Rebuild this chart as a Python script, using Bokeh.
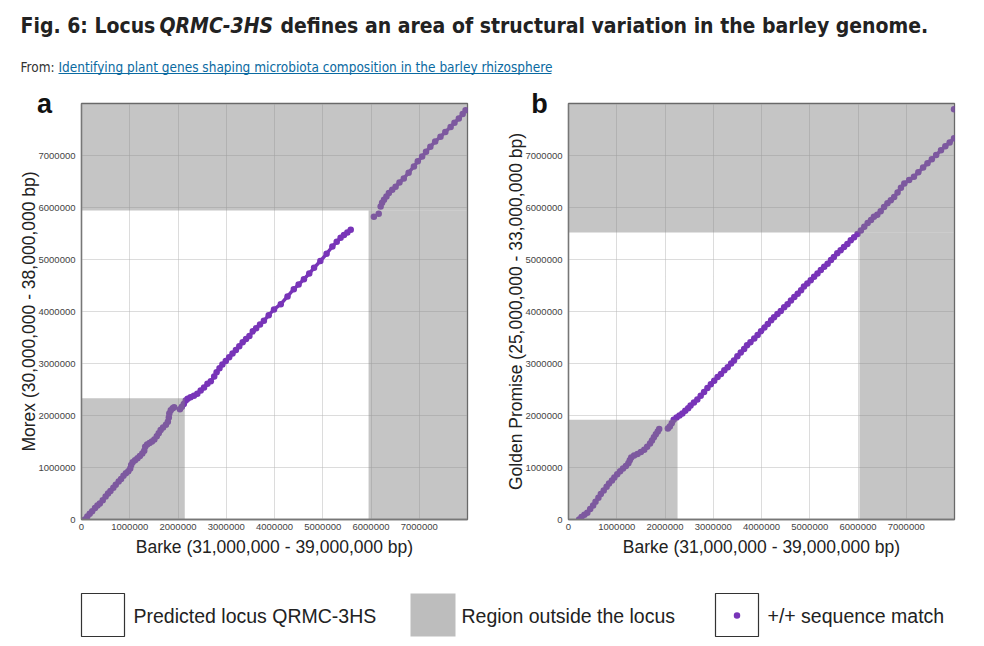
import numpy as np
from bokeh.plotting import figure
from bokeh.models import Range1d, FixedTicker, BasicTickFormatter
from bokeh.layouts import column, row
from bokeh.core.properties import value
from bokeh.embed import file_html
from bokeh.resources import INLINE

# ---------------------------------------------------------------------------
# Data: positions in Mb relative to the start of each window
# ---------------------------------------------------------------------------
# Panel a: Barke (31-39 Mb) vs Morex (30-38 Mb); group = contiguous block
a_barke = [0.07, 0.12, 0.17, 0.22, 0.28, 0.33, 0.38, 0.44, 0.50, 0.55, 0.60, 0.66, 0.71, 0.77,
           0.82, 0.87, 0.92, 0.97, 1.01, 1.03, 1.06, 1.11, 1.16, 1.21, 1.26, 1.30, 1.32, 1.36,
           1.41, 1.46, 1.51, 1.56, 1.60, 1.64, 1.69, 1.75, 1.79, 1.81, 1.82, 1.85, 1.89, 1.92,
           2.04, 2.08, 2.12, 2.16, 2.20, 2.26, 2.33, 2.40, 2.47, 2.54, 2.61, 2.68, 2.75, 2.80,
           2.86, 2.92, 2.99, 3.06, 3.13, 3.20, 3.27, 3.34, 3.41, 3.48, 3.55, 3.62, 3.70, 3.78,
           3.88, 3.99, 4.13, 4.27, 4.40, 4.50, 4.61, 4.72, 4.82, 4.95, 5.08, 5.20, 5.29, 5.37,
           5.44, 5.51, 5.58,
           6.06, 6.16,
           6.20, 6.23, 6.27, 6.32, 6.37, 6.44, 6.51, 6.59, 6.68, 6.78, 6.89, 6.97, 7.06, 7.14,
           7.23, 7.33, 7.44, 7.54, 7.65, 7.73, 7.82, 7.90, 7.96]
a_morex = [0.00, 0.06, 0.11, 0.16, 0.22, 0.27, 0.31, 0.37, 0.44, 0.50, 0.55, 0.61, 0.67, 0.73,
           0.78, 0.84, 0.89, 0.93, 0.98, 1.05, 1.10, 1.14, 1.18, 1.22, 1.27, 1.32, 1.40, 1.44,
           1.47, 1.50, 1.54, 1.60, 1.66, 1.72, 1.77, 1.82, 1.88, 1.96, 2.04, 2.10, 2.14, 2.16,
           2.12, 2.17, 2.22, 2.29, 2.32, 2.35, 2.38, 2.42, 2.48, 2.54, 2.61, 2.66, 2.75, 2.83,
           2.91, 2.98, 3.05, 3.12, 3.19, 3.26, 3.33, 3.41, 3.47, 3.53, 3.62, 3.68, 3.75, 3.82,
           3.93, 4.04, 4.14, 4.29, 4.43, 4.52, 4.62, 4.73, 4.84, 4.97, 5.11, 5.25, 5.34, 5.42,
           5.47, 5.52, 5.57,
           5.82, 5.88,
           6.02, 6.09, 6.15, 6.21, 6.28, 6.34, 6.40, 6.48, 6.56, 6.67, 6.79, 6.89, 6.98, 7.07,
           7.17, 7.27, 7.36, 7.45, 7.55, 7.63, 7.71, 7.80, 7.87]
a_group = [1] * 42 + [2] * 45 + [0] * 2 + [3] * 23

# Panel b: Barke (31-39 Mb) vs Golden Promise (25-33 Mb)
b_barke = [0.22, 0.27, 0.33, 0.39, 0.45, 0.51, 0.56, 0.62, 0.67, 0.73, 0.79, 0.84, 0.90, 0.95,
           1.01, 1.07, 1.13, 1.19, 1.24, 1.27, 1.30, 1.36, 1.43, 1.50, 1.57, 1.63, 1.69, 1.73,
           1.77, 1.81, 1.85, 1.88,
           2.06, 2.10, 2.14, 2.18, 2.24, 2.30, 2.36, 2.42, 2.48, 2.53, 2.60, 2.67, 2.74, 2.81,
           2.88, 2.95, 3.02, 3.09, 3.16, 3.23, 3.30, 3.37, 3.43, 3.50, 3.57, 3.64, 3.70, 3.77,
           3.85, 3.92, 3.99, 4.06, 4.13, 4.20, 4.26, 4.33, 4.40, 4.47, 4.54, 4.61, 4.68, 4.75,
           4.82, 4.88, 4.95, 5.02, 5.09, 5.16, 5.23, 5.30, 5.37, 5.44, 5.50, 5.57, 5.64, 5.71,
           5.78, 5.85, 5.92, 5.99, 6.06, 6.13, 6.20, 6.27, 6.33, 6.40, 6.47, 6.54, 6.61, 6.68,
           6.75, 6.82, 6.89, 6.96, 7.06, 7.16, 7.25, 7.35, 7.44, 7.53, 7.62, 7.72, 7.81, 7.90,
           7.99,
           7.99]
b_golden = [0.00, 0.05, 0.09, 0.13, 0.20, 0.27, 0.34, 0.42, 0.49, 0.56, 0.63, 0.69, 0.75, 0.81,
            0.87, 0.93, 0.98, 1.03, 1.08, 1.14, 1.19, 1.23, 1.26, 1.30, 1.34, 1.40, 1.46, 1.52,
            1.58, 1.64, 1.69, 1.74,
            1.75, 1.79, 1.85, 1.92, 1.96, 2.00, 2.04, 2.09, 2.14, 2.19, 2.25, 2.31, 2.38, 2.45,
            2.53, 2.60, 2.67, 2.74, 2.80, 2.87, 2.93, 3.00, 3.06, 3.14, 3.21, 3.28, 3.35, 3.41,
            3.48, 3.55, 3.62, 3.69, 3.76, 3.83, 3.89, 3.95, 4.01, 4.08, 4.14, 4.21, 4.28, 4.34,
            4.41, 4.48, 4.54, 4.60, 4.67, 4.73, 4.80, 4.86, 4.92, 4.99, 5.05, 5.12, 5.18, 5.24,
            5.30, 5.37, 5.43, 5.49, 5.56, 5.63, 5.70, 5.76, 5.82, 5.86, 5.93, 6.01, 6.08, 6.14,
            6.20, 6.29, 6.38, 6.46, 6.53, 6.59, 6.68, 6.77, 6.85, 6.93, 7.01, 7.10, 7.18, 7.25,
            7.33,
            7.89]
b_group = [1] * 32 + [2] * 85 + [0]

# Regions outside the predicted locus: (left, right, bottom, top) in Mb
a_outside = [(0.0, 8.0, 5.94, 8.0), (5.95, 8.0, 0.0, 5.94), (0.0, 2.14, 0.0, 2.33)]
b_outside = [(0.0, 8.0, 5.52, 8.0), (6.03, 8.0, 0.0, 5.52), (0.0, 2.26, 0.0, 1.92)]

tick_values = [0, 1, 2, 3, 4, 5, 6, 7]
x_title = "Barke (31,000,000 - 39,000,000 bp)"
a_y_title = "Morex (30,000,000 - 38,000,000 bp)"
b_y_title = "Golden Promise (25,000,000 - 33,000,000 bp)"
panel_letters = ["a", "b"]
legend_labels = ["Predicted locus QRMC-3HS", "Region outside the locus", "+/+ sequence match"]

MB = 1e6
PURPLE = "#7834b8"
SHADE = "#838383"
SHADE_ALPHA = 0.47
SANS = "Liberation Sans"
NARROW = "DejaVu Sans Condensed"
HEAD_H = 124      # header strip height; the panel row slides up under its bottom edge
OVERLAP = 36


def dot_plot(xs, ys, groups, outside, y_title, border):
    left, right, top, bottom = border
    p = figure(width=492, height=487, output_backend="svg", toolbar_location=None,
               x_range=Range1d(0, 8 * MB), y_range=Range1d(0, 8 * MB),
               min_border_left=left, min_border_right=right,
               min_border_top=top, min_border_bottom=bottom)
    p.background_fill_color = "white"
    p.border_fill_alpha = 0          # lets the panel letters of the header show through
    p.outline_line_color = "#666666"
    p.outline_line_width = 1.3

    ticks = [t * MB for t in tick_values]
    for ax in (p.xaxis[0], p.yaxis[0]):
        ax.ticker = FixedTicker(ticks=ticks)
        ax.formatter = BasicTickFormatter(use_scientific=False)
        ax.major_tick_out = 0
        ax.major_tick_in = 0
        ax.minor_tick_out = 0
        ax.minor_tick_in = 0
        ax.axis_line_color = "#777777"
        ax.axis_line_width = 1.3
        ax.major_label_text_font = SANS
        ax.major_label_text_font_size = "9.5px"
        ax.major_label_text_color = "#444444"
        ax.axis_label_text_font = SANS
        ax.axis_label_text_font_size = "17.5px"
        ax.axis_label_text_font_style = "normal"
        ax.axis_label_text_color = "#222222"
    p.xaxis.major_label_standoff = 4
    p.yaxis.major_label_standoff = 6
    p.xaxis.axis_label_standoff = 4
    p.yaxis.axis_label_standoff = -3
    p.xaxis.axis_label = x_title
    p.yaxis.axis_label = y_title

    for g in p.grid:
        g.ticker = FixedTicker(ticks=ticks)
        g.grid_line_color = "#b8b8b8"
        g.grid_line_dash = "1 1"
        g.grid_line_width = 1

    xs = np.asarray(xs) * MB
    ys = np.asarray(ys) * MB
    groups = np.asarray(groups)
    seg_x, seg_y = [], []
    for gid in sorted(set(groups.tolist())):
        if gid == 0:
            continue
        m = groups == gid
        seg_x.append(xs[m].tolist())
        seg_y.append(ys[m].tolist())
    p.multi_line(xs=seg_x, ys=seg_y, line_color=PURPLE, line_width=3.5)
    p.scatter(xs, ys, size=6.5, fill_color=PURPLE, line_color=None)

    # translucent grey drawn over the matches outside the locus
    p.quad(left=[o[0] * MB for o in outside], right=[o[1] * MB for o in outside],
           bottom=[o[2] * MB for o in outside], top=[o[3] * MB for o in outside],
           fill_color=SHADE, fill_alpha=SHADE_ALPHA, line_color=None)
    return p


fig_a = dot_plot(a_barke, a_morex, a_group, a_outside, a_y_title, (81, 25, 15, 54))
fig_b = dot_plot(b_barke, b_golden, b_group, b_outside, b_y_title, (76, 30, 15, 56))

# Header with figure title, source line and the panel letters
head = figure(width=984, height=HEAD_H, output_backend="svg", toolbar_location=None,
              x_range=Range1d(0, 984), y_range=Range1d(HEAD_H, 0), min_border=0)
head.axis.visible = False
head.grid.visible = False
head.outline_line_color = None
title_kw = dict(text_font=value(NARROW), text_font_size="21px", text_color="#222222",
                text_baseline="middle")
head.text(x=[20], y=[25], text=["Fig. 6: Locus"], text_font_style="bold", **title_kw)
head.text(x=[159], y=[25], text=["QRMC-3HS"], text_font_style="bold italic", **title_kw)
head.text(x=[280], y=[25], text=["defines an area of structural variation in the barley genome."],
          text_font_style="bold", **title_kw)
src_kw = dict(text_font=value(NARROW), text_font_size="13.5px", text_baseline="middle")
head.text(x=[20], y=[66], text=["From:"], text_color="#333333", **src_kw)
head.text(x=[58], y=[66],
          text=["Identifying plant genes shaping microbiota composition in the barley rhizosphere"],
          text_color="#0a6aa1", **src_kw)
head.segment(x0=[58], y0=[73], x1=[551], y1=[73], line_color="#0a6aa1", line_width=1)
head.text(x=[44, 539], y=[103, 103], text=panel_letters, text_font=value(SANS),
          text_font_size="27px", text_font_style="bold", text_color="#111111",
          text_align="center", text_baseline="middle")

# Legend strip
leg = figure(width=984, height=71, output_backend="svg", toolbar_location=None,
             x_range=Range1d(0, 984), y_range=Range1d(646, 575), min_border=0)
leg.axis.visible = False
leg.grid.visible = False
leg.outline_line_color = None
leg.quad(left=[81, 715], right=[124, 758], top=[593, 593], bottom=[636, 636],
         fill_color="white", line_color="#333333", line_width=1.2)
leg.quad(left=[410], right=[455], top=[593], bottom=[636], fill_color="#bdbdbd", line_color=None)
leg.scatter(x=[736.5], y=[615], size=6.5, fill_color=PURPLE, line_color=None)
leg.text(x=[133, 461, 767], y=[615, 615, 615], text=legend_labels, text_font=value(SANS),
         text_font_size="19.5px", text_color="#222222", text_baseline="middle")

panels = row(fig_a, fig_b, margin=(-OVERLAP, 0, 0, 0))
layout = column(head, panels, leg)
open("out.html", "w").write(file_html(layout, INLINE))
